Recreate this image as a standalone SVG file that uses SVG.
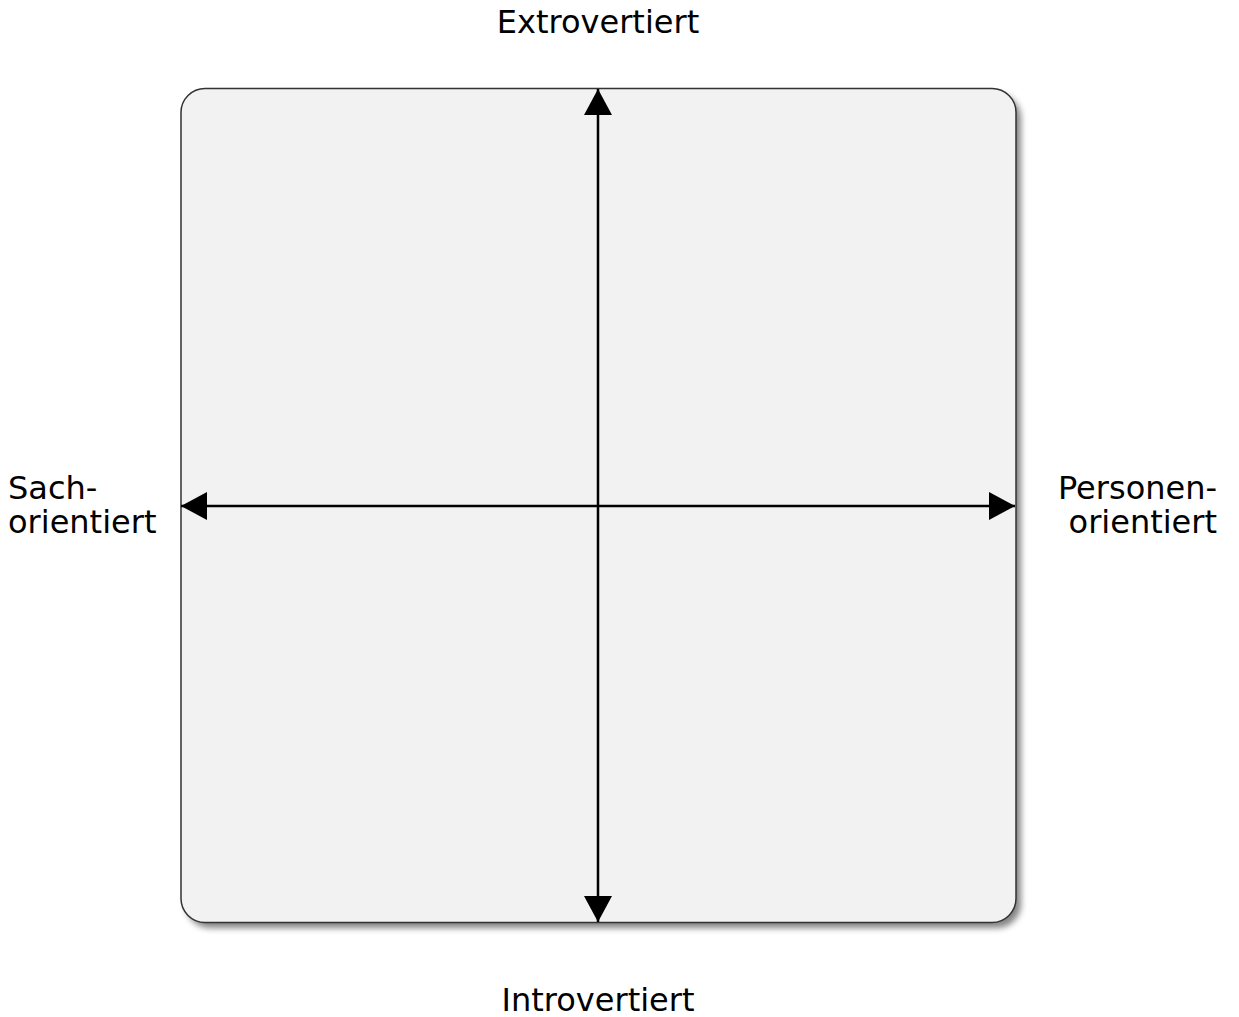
<svg xmlns="http://www.w3.org/2000/svg" width="1239" height="1017" viewBox="0 0 1239 1017">
<style>
text{font-family:"DejaVu Sans",Verdana,sans-serif;font-size:32px;fill:#000}
.axis{stroke:#000;stroke-width:2.5;fill:none}
</style>
<defs>
<filter id="sh" x="-5%" y="-5%" width="110%" height="110%">
<feGaussianBlur stdDeviation="3"/>
</filter>
<marker id="ah" viewBox="0 0 26 28" refX="26" refY="14" markerWidth="26" markerHeight="28" markerUnits="userSpaceOnUse" orient="auto">
<path d="M0,0 L26,14 L0,28 Z" fill="#000"/>
</marker>
</defs>
<g id="board">
<rect x="186" y="94" width="835" height="834" rx="24" fill="#777" filter="url(#sh)" opacity="0.9"/>
<rect x="181" y="88.5" width="835" height="834" rx="24" fill="#f2f2f2" stroke="#333" stroke-width="1.5"/>
</g>
<g id="connectors">
<path class="axis" d="M598,506 L598,89" marker-end="url(#ah)"/>
<path class="axis" d="M598,506 L598,922" marker-end="url(#ah)"/>
<path class="axis" d="M598,506 L181,506" marker-end="url(#ah)"/>
<path class="axis" d="M598,506 L1015,506" marker-end="url(#ah)"/>
</g>
<g id="extrovertiert"><text x="598" y="33" text-anchor="middle">Extrovertiert</text></g>
<g id="introvertiert"><text x="598" y="1011" text-anchor="middle">Introvertiert</text></g>
<g id="sachorientiert"><text x="8" y="499">Sach-</text><text x="8" y="533">orientiert</text></g>
<g id="personenorientiert"><text x="1217" y="499" text-anchor="end">Personen-</text><text x="1217" y="533" text-anchor="end">orientiert</text></g>
</svg>
